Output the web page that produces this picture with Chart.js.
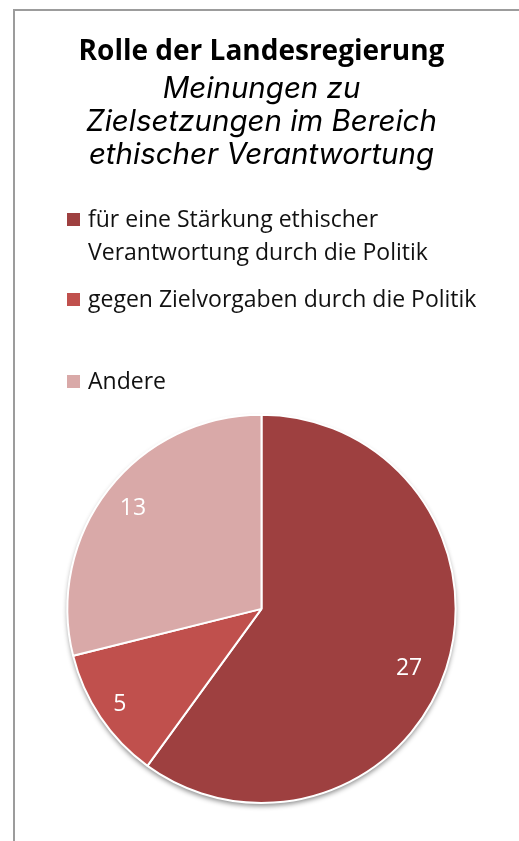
<!DOCTYPE html>
<html>
<head>
<meta charset="utf-8">
<script src="https://cdn.jsdelivr.net/npm/chart.js@4"></script>
<style>
  html, body { margin: 0; padding: 0; background: #fff; }
  #wrap { position: relative; width: 519px; height: 841px; overflow: hidden; }
  #frame { position: absolute; left: 13px; top: 9px; width: 700px; height: 1000px;
           border-left: 2px solid #9c9c9c; border-top: 2px solid #9c9c9c; }
  #chart { position: absolute; left: 0; top: 0; }
</style>
</head>
<body>
<div id="wrap">
  <div id="frame"></div>
  <canvas id="chart" width="519" height="841"></canvas>
</div>
<script>
const titleText = 'Rolle der Landesregierung';
const subtitleLines = ['Meinungen zu', 'Zielsetzungen im Bereich', 'ethischer Verantwortung'];
const categories = [
  ['für eine Stärkung ethischer', 'Verantwortung durch die Politik'],
  'gegen Zielvorgaben durch die Politik',
  'Andere'
];
const values = [27, 5, 13];
const colors = ['#9e4040', '#c0504d', '#d9a9a8'];

// legend drawn by hand so the spacing matches the original
const legendPlugin = {
  id: 'sideLegend',
  afterDraw(chart, args, opts) {
    const ctx = chart.ctx;
    ctx.save();
    ctx.font = opts.font;
    ctx.textBaseline = 'alphabetic';
    categories.forEach((label, i) => {
      const y = opts.rows[i];
      ctx.fillStyle = colors[i];
      ctx.fillRect(opts.x, y - 14, 13, 13);
      ctx.fillStyle = '#111';
      const lines = Array.isArray(label) ? label : [label];
      lines.forEach((line, j) => ctx.fillText(line, opts.x + 21, y + j * opts.lineHeight));
    });
    ctx.restore();
  }
};

// value labels inside the slices
const valueLabels = {
  id: 'valueLabels',
  afterDatasetsDraw(chart, args, opts) {
    const ctx = chart.ctx;
    const meta = chart.getDatasetMeta(0);
    ctx.save();
    ctx.font = opts.font;
    ctx.fillStyle = '#fff';
    ctx.textAlign = 'center';
    ctx.textBaseline = 'middle';
    meta.data.forEach((arc, i) => {
      const p = arc.getProps(['x', 'y', 'startAngle', 'endAngle', 'outerRadius']);
      const mid = (p.startAngle + p.endAngle) / 2 + opts.nudge[i];
      const r = p.outerRadius * opts.offset[i];
      ctx.fillText(String(values[i]), p.x + Math.cos(mid) * r, p.y + Math.sin(mid) * r);
    });
    ctx.restore();
  }
};

// soft shadow under the pie
const pieShadow = {
  id: 'pieShadow',
  beforeDatasetsDraw(chart) {
    const arc = chart.getDatasetMeta(0).data[0];
    if (!arc) return;
    const ctx = chart.ctx;
    ctx.save();
    ctx.shadowColor = 'rgba(0,0,0,0.45)';
    ctx.shadowBlur = 5;
    ctx.shadowOffsetY = 3;
    ctx.fillStyle = '#fff';
    ctx.beginPath();
    ctx.arc(arc.x, arc.y, arc.outerRadius, 0, Math.PI * 2);
    ctx.fill();
    ctx.restore();
  }
};

new Chart(document.getElementById('chart'), {
  type: 'pie',
  data: {
    labels: categories,
    datasets: [{
      data: values,
      backgroundColor: colors,
      borderColor: '#fff',
      borderWidth: 2
    }]
  },
  plugins: [pieShadow, valueLabels, legendPlugin],
  options: {
    responsive: false,
    animation: false,
    layout: { padding: { left: 66, right: 62, top: 0, bottom: 37 } },
    plugins: {
      legend: { display: false },
      tooltip: { enabled: false },
      title: {
        display: true,
        text: titleText,
        color: '#000',
        font: { family: 'Open Sans', size: 28, weight: 'bold', lineHeight: 1.2 },
        padding: { top: 35, bottom: 0 }
      },
      subtitle: {
        display: true,
        text: subtitleLines,
        color: '#000',
        font: { family: 'Inter', size: 29.5, style: 'italic', lineHeight: 1.12 },
        padding: { top: 4, bottom: 242 }
      },
      sideLegend: { x: 67, rows: [227, 307, 389], lineHeight: 33, font: '23px "Open Sans"' },
      valueLabels: { font: '23px "Open Sans"', offset: [0.82, 0.88, 0.84], nudge: [0.07, 0, 0] }
    }
  }
});
</script>
</body>
</html>
